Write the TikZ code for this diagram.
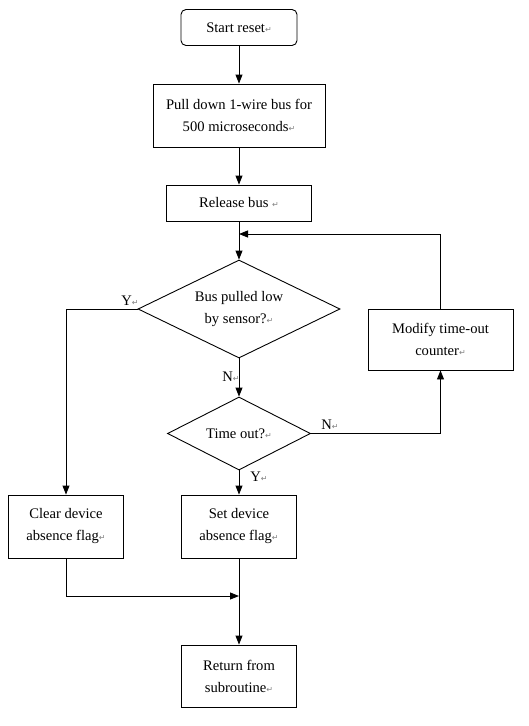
\documentclass[tikz,border=0pt]{standalone}
\usepackage{fontspec}
\setmainfont{Liberation Serif}
\newfontfamily\dejavu{DejaVu Sans}
\usetikzlibrary{arrows.meta,shapes.geometric}
\newcommand{\rt}{{\dejavu\fontsize{8}{8}\selectfont\textcolor{gray}{↵}}}
\begin{document}
\begin{tikzpicture}[x=1pt,y=-1pt,
  every node/.style={font=\fontsize{14.6}{22}\selectfont},
  box/.style={draw,line width=0.9pt,rectangle,align=center,inner sep=0pt},
  dia/.style={draw,line width=0.9pt,diamond,aspect=2,align=center,inner sep=0pt},
  lbl/.style={inner sep=0pt,anchor=center},
  arr/.style={line width=0.9pt,-{Triangle[length=9pt,width=7pt]}},
  ln/.style={line width=0.9pt}]
\useasboundingbox (0,0) rectangle (529,726);
\node[box,rounded corners=5pt,minimum width=116pt,minimum height=36pt] (start) at (239,27.5) {Start reset\rt};
\node[box,minimum width=172pt,minimum height=63pt] (pull) at (239,115.5) {Pull down 1-wire bus for\\ 500 microseconds\rt};
\node[box,minimum width=145pt,minimum height=36pt] (release) at (239,203) {Release bus \rt};
\node[dia,minimum width=202pt,minimum height=98pt] (d1) at (239,309) {Bus pulled low\\ by sensor?\rt};
\node[dia,minimum width=143pt,minimum height=73pt] (d2) at (239,433.5) {Time out?\rt};
\node[box,minimum width=145pt,minimum height=61pt] (modify) at (440.5,339.5) {Modify time-out\\ counter\rt};
\node[box,minimum width=115pt,minimum height=63pt] (clear) at (66,526.5) {Clear device\\ absence flag\rt};
\node[box,minimum width=115pt,minimum height=63pt] (set) at (239,526.5) {Set device\\ absence flag\rt};
\node[box,minimum width=115pt,minimum height=62pt] (ret) at (239,676) {Return from\\ subroutine\rt};
\coordinate (loopin) at (239,234);
\coordinate (join) at (239,596);
\draw[arr] (start.south) -- (pull.north);
\draw[arr] (pull.south) -- (release.north);
\draw[arr] (release.south) -- (d1.north);
\draw[arr] (modify.north) |- (loopin);
\draw[arr] (d1.west) -| (clear.north);
\draw[arr] (d1.south) -- (d2.north);
\draw[arr] (d2.east) -| (modify.south);
\draw[arr] (d2.south) -- (set.north);
\draw[arr] (set.south) -- (ret.north);
\draw[arr] (clear.south) |- (join);
\node[lbl] (y1) at (130,301) {Y\rt};
\node[lbl] (n1) at (231,377) {N\rt};
\node[lbl] (n2) at (330,425) {N\rt};
\node[lbl] (y2) at (259,477) {Y\rt};
\end{tikzpicture}
\end{document}
